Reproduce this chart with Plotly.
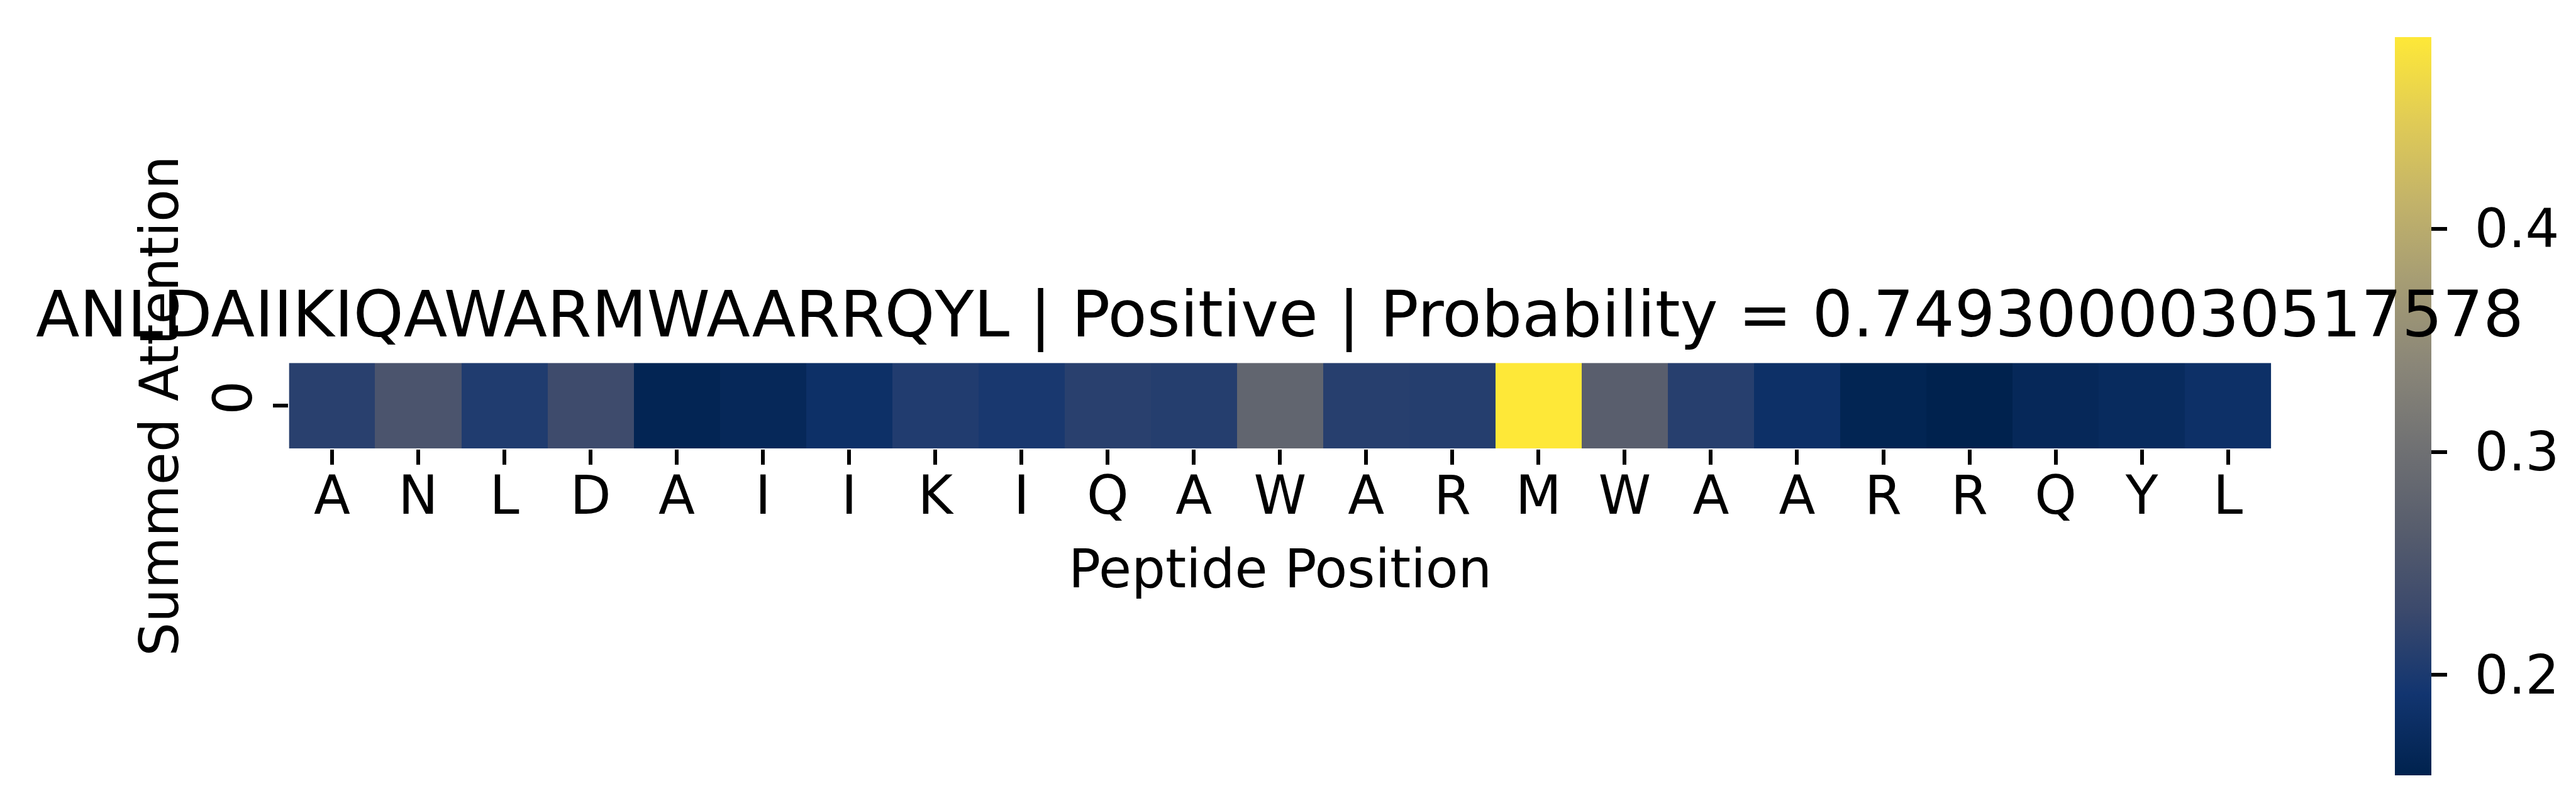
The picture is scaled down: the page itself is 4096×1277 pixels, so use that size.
import plotly.graph_objects as go

# ---------------- data ----------------
residues = list("ANLDAIIKIQAWARMWAARRQYL")
attention = [0.212, 0.249, 0.204, 0.233, 0.161, 0.167, 0.182, 0.205, 0.198,
             0.212, 0.2085, 0.2795, 0.2105, 0.2085, 0.486, 0.268, 0.2105,
             0.182, 0.160, 0.155, 0.167, 0.172, 0.182]
row_labels = ["0"]
cbar_ticks = [0.2, 0.3, 0.4]
cbar_ticktext = ["0.2", "0.3", "0.4"]
title_text = "ANLDAIIKIQAWARMWAARRQYL | Positive | Probability = 0.7493000030517578"
x_title = "Peptide Position"
y_title = "Summed Attention"

# ---------------- layout geometry (target px) ----------------
W, H = 4096, 1277
S = 0.847
FONT = "DejaVu Sans"
plot_l, plot_r = 533 * S, 4254 * S
plot_t, plot_b = 672 * S, 833 * S
cb_l, cb_t, cb_b = 4486 * S, 60 * S, 1446 * S
cb_thick = 69 * S
tick_font = 100 * S
title_font = 120 * S
ticklen = 29 * S
tickwidth = 6.7 * S

fig = go.Figure()
fig.add_trace(go.Heatmap(
    z=[attention],
    x=list(range(len(residues))),
    y=[0],
    colorscale="Cividis",
    zmin=min(attention), zmax=max(attention),
    showscale=True,
    colorbar=dict(
        x=cb_l / W, xanchor="left", xpad=0, ypad=0,
        y=1 - (cb_t + cb_b) / 2 / H, yanchor="middle",
        len=cb_b - cb_t, lenmode="pixels",
        thickness=cb_thick, thicknessmode="pixels",
        outlinewidth=0,
        ticks="outside", ticklen=30 * S, tickwidth=tickwidth, tickcolor="black",
        tickvals=cbar_ticks, ticktext=["\u00a0" + t for t in cbar_ticktext],
        tickfont=dict(family=FONT, size=tick_font, color="black"),
    ),
    hoverongaps=False,
))

fig.update_layout(
    width=W, height=H, autosize=False,
    margin=dict(l=0, r=0, t=0, b=0, pad=0, autoexpand=False),
    paper_bgcolor="white", plot_bgcolor="white",
    font=dict(family=FONT, color="black"),
    showlegend=False,
    xaxis=dict(
        domain=[plot_l / W, plot_r / W],
        range=[-0.5, len(residues) - 0.5],
        tickmode="array", tickvals=list(range(len(residues))), ticktext=residues,
        ticks="outside", ticklen=ticklen, tickwidth=tickwidth, tickcolor="black",
        tickfont=dict(family=FONT, size=tick_font, color="black"),
        ticklabelstandoff=-24,
        showgrid=False, zeroline=False, showline=False, tickangle=0,
        automargin=False,
    ),
    yaxis=dict(
        domain=[1 - plot_b / H, 1 - plot_t / H],
        range=[-0.5, 0.5],
        tickmode="array", tickvals=[0], ticktext=row_labels,
        ticks="outside", ticklen=ticklen, tickwidth=tickwidth, tickcolor="black",
        tickfont=dict(family=FONT, size=tick_font, color="black"),
        tickangle=-90,
        showgrid=False, zeroline=False, showline=False,
        automargin=False,
    ),
)

cx = (plot_l + plot_r) / 2 / W
fig.add_annotation(
    text=title_text, xref="paper", yref="paper",
    x=cx, y=1 - (528 - 0.345 * title_font) / H, xanchor="center", yanchor="middle",
    showarrow=False, font=dict(family=FONT, size=title_font, color="black"),
)
fig.add_annotation(
    text=x_title, xref="paper", yref="paper",
    x=cx, y=1 - (1100 * S - 0.345 * tick_font - 6) / H, xanchor="center", yanchor="middle",
    showarrow=False, font=dict(family=FONT, size=tick_font, color="black"),
)
fig.add_annotation(
    text=y_title, xref="paper", yref="paper",
    x=(324 * S - 0.345 * tick_font) / W, y=1 - (plot_t + plot_b) / 2 / H,
    xanchor="center", yanchor="middle", textangle=-90,
    showarrow=False, font=dict(family=FONT, size=tick_font, color="black"),
)

fig.write_html("out.html")
